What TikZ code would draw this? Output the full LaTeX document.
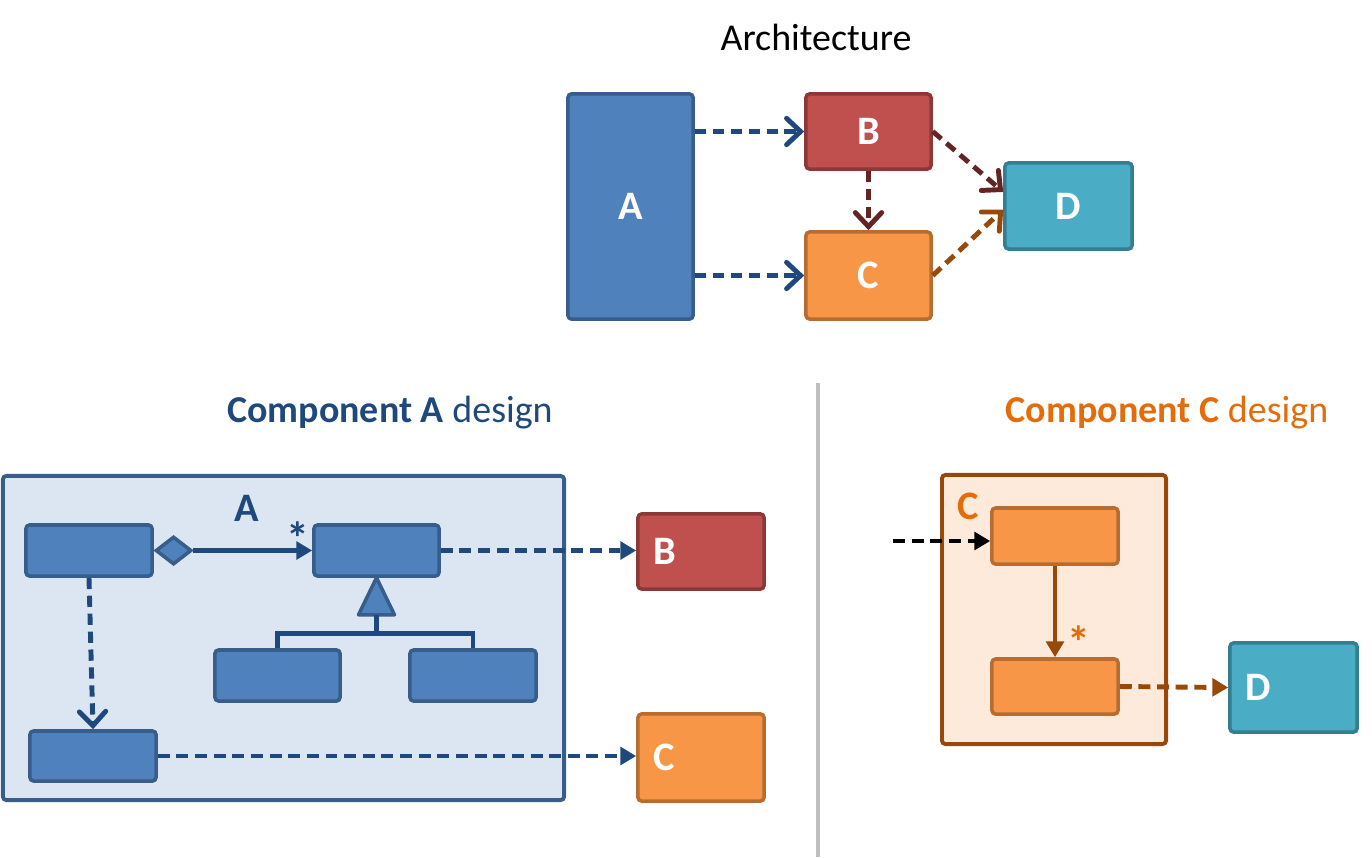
\documentclass[tikz,border=0pt]{standalone}
\usepackage{fontspec}
\setmainfont{Carlito}
\usetikzlibrary{arrows.meta,shapes.geometric}

\definecolor{blueFill}{HTML}{4F81BD}
\definecolor{blueLine}{HTML}{385D8A}
\definecolor{navy}{HTML}{1F497D}
\definecolor{redFill}{HTML}{C0504D}
\definecolor{redLine}{HTML}{8C3836}
\definecolor{darkRed}{HTML}{632523}
\definecolor{orangeFill}{HTML}{F79646}
\definecolor{orangeLine}{HTML}{B66D31}
\definecolor{brown}{HTML}{984807}
\definecolor{orangeText}{HTML}{E46C0A}
\definecolor{tealFill}{HTML}{4BACC6}
\definecolor{tealLine}{HTML}{357D91}
\definecolor{paleBlue}{HTML}{DCE6F2}
\definecolor{paleOrange}{HTML}{FDEADA}
\definecolor{divider}{HTML}{BFBFBF}

\begin{document}
\begin{tikzpicture}[x=0.01cm,y=-0.01cm,
	box/.style={ rectangle, draw, line width=1pt, rounded corners=1pt, inner sep=0pt, text=white, font=\bfseries\fontsize{11.5}{13}\selectfont },
	boxa/.style={ box, fill=blueFill, draw=blueLine },
	boxb/.style={ box, fill=redFill, draw=redLine },
	boxc/.style={ box, fill=orangeFill, draw=orangeLine },
	boxd/.style={ box, fill=tealFill, draw=tealLine },
	pkga/.style={ rectangle, draw=blueLine, fill=paleBlue, line width=1.1pt, rounded corners=1pt },
	pkgc/.style={ rectangle, draw=brown, fill=paleOrange, line width=1.1pt, rounded corners=1pt },
	boxtext/.style={ text=white, font=\bfseries\fontsize{11.5}{13}\selectfont, xshift=1.5pt },
	title/.style={ font=\fontsize{10.8}{13}\selectfont },
	pkgtext/.style={ font=\bfseries\fontsize{11.5}{13}\selectfont },
	star/.style={ font=\bfseries\fontsize{13}{14}\selectfont, inner sep=0pt },
	dep/.style={ line width=1.4pt, dash pattern=on 3.2pt off 1.9pt, -{Straight Barb[length=4pt,width=7.5pt,line cap=round]} },
	use/.style={ line width=1.4pt, dash pattern=on 3.4pt off 1.9pt, -{Triangle[length=4.5pt,width=5pt]} },
	assoc/.style={ line width=1.3pt, draw=navy }
]
\useasboundingbox (0,0) rectangle (1372,857);

% architecture
\node at (816,37) (archtitle) [title] {Architecture};
\node at (630.5,206.5) (A) [boxa, minimum width=1.25cm, minimum height=2.25cm] {A};
\node at (868.5,131.5) (B) [boxb, minimum width=1.25cm, minimum height=0.75cm] {B};
\node at (868.5,275.5) (C) [boxc, minimum width=1.25cm, minimum height=0.87cm] {C};
\node at (1068.5,206) (D) [boxd, minimum width=1.27cm, minimum height=0.86cm] {D};
\draw[dep, navy] (A.east |- B.west) -- (B.west);
\draw[dep, navy] (A.east |- C.west) -- (C.west);
\draw[dep, darkRed] (B.south) -- (C.north);
\draw[dep, darkRed] (B.east) -- ([yshift=4pt]D.west);
\draw[dep, brown] (C.east) -- ([yshift=-1pt]D.west);

\draw[line width=1.3pt, divider] (818,383) -- (818,857);

% component A
\node at (390,413) (titlea) [title, text=navy] {\textbf{Component A} design};
\node at (283.5,638) (pkgA) [pkga, minimum width=5.61cm, minimum height=3.24cm] {};
\node at (247,508) (pkgAlabel) [pkgtext, text=navy] {A};
\node at (89,550.5) (a1) [boxa, minimum width=1.26cm, minimum height=0.51cm] {};
\node at (376.5,550.5) (a2) [boxa, minimum width=1.25cm, minimum height=0.51cm] {};
\node at (277.5,675.5) (a3) [boxa, minimum width=1.25cm, minimum height=0.51cm] {};
\node at (473,675.5) (a4) [boxa, minimum width=1.26cm, minimum height=0.51cm] {};
\node at (93,756) (a5) [boxa, minimum width=1.26cm, minimum height=0.50cm] {};
\node at (701,551.5) (extB) [boxb, minimum width=1.26cm, minimum height=0.75cm, label={[boxtext,anchor=west]west:B}] {};
\node at (701,757.5) (extC) [boxc, minimum width=1.26cm, minimum height=0.87cm, label={[boxtext,anchor=west]west:C}] {};
\node at (a1.east) (agg) [diamond, anchor=west, draw=blueLine, fill=blueFill, line width=1pt, inner sep=0pt, minimum width=0.36cm, minimum height=0.28cm] {};
\draw[assoc, -{Triangle[length=4.5pt,width=5pt]}] (agg.east) -- (a2.west);
\node at (298,538) (starA) [star, text=navy] {*};
\draw[line width=1pt, draw=blueLine, fill=blueFill, line join=round] (a2.south) -- ++(18,37) -- ++(-36,0) -- cycle;
\path (a2.south) ++(0,37) coordinate (genbase);
\draw[assoc] (genbase) -- ++(0,19) coordinate (fork);
\draw[assoc] (a3.north) |- (fork) -| (a4.north);
\draw[dep, navy] (a1.south) -- (a5.north);
\draw[use, navy] (a2.east) -- (a2.east -| extB.west);
\draw[use, navy] (a5.east) -- (a5.east -| extC.west);

% component C
\node at (1167,413) (titlec) [title, text=orangeText] {\textbf{Component C} design};
\node at (1054,609.5) (pkgC) [pkgc, minimum width=2.24cm, minimum height=2.69cm] {};
\node at (968,506) (pkgClabel) [pkgtext, text=orangeText] {C};
\node at (1055,536) (c1) [boxc, minimum width=1.26cm, minimum height=0.56cm] {};
\node at (1055,686.5) (c2) [boxc, minimum width=1.26cm, minimum height=0.55cm] {};
\node at (1293.5,687.5) (extD) [boxd, minimum width=1.27cm, minimum height=0.89cm, label={[boxtext,anchor=west]west:D}] {};
\coordinate (entry) at (893,541);
\draw[use, black] (entry) -- (entry -| c1.west);
\draw[line width=1.3pt, brown, -{Triangle[length=4.5pt,width=5pt]}] (c1.south) -- (c2.north);
\node at (1079,642) (starC) [star, text=orangeText] {*};
\draw[use, brown] (c2.east) -- (extD.west);

\end{tikzpicture}
\end{document}
